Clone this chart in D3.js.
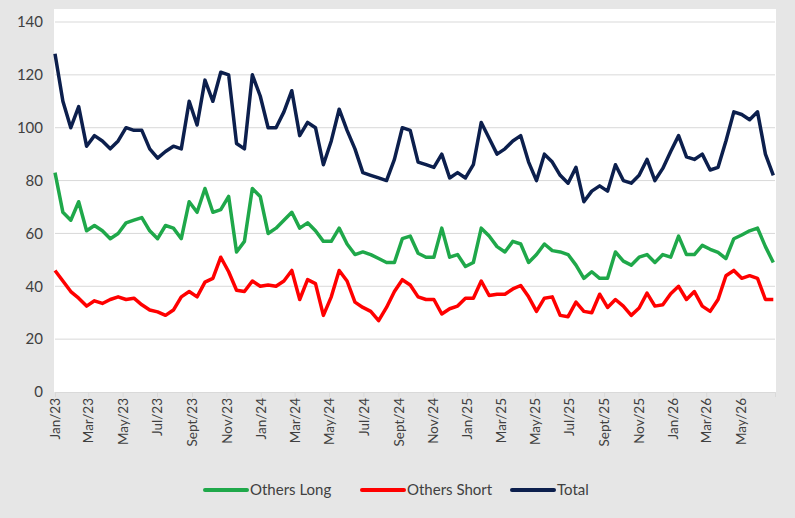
<!DOCTYPE html>
<html>
<head>
<meta charset="utf-8">
<script src="https://cdn.jsdelivr.net/npm/d3@7"></script>
<style>
  body { margin: 0; background: #e6e6e6; }
  text { font-family: Lato, "Open Sans", sans-serif; }
</style>
</head>
<body>
<div id="chart"></div>
<script>
// fortnightly readings from Jan 2023
const seriesNames = ["Others Long", "Others Short", "Total"];
const seriesColors = ["#1fa84a", "#ff0000", "#0c1f4d"];

const othersLong = [83, 68, 65, 72, 61, 63, 61, 58, 60, 64, 65, 66, 61, 58, 63, 62, 58, 72, 68, 77,
  68, 69, 74, 53, 57, 77, 74, 60, 62, 65, 68, 62, 64, 61, 57, 57, 62, 56, 52, 53,
  52, 50.5, 49, 49, 58, 59, 52.5, 51, 51, 62, 51, 52, 47.5, 49, 62, 59, 55, 53, 57, 56,
  49, 52, 56, 53.5, 53, 52, 48, 43, 45.5, 43, 43, 53, 49.5, 48, 51, 52, 49, 52, 51, 59,
  52, 52, 55.5, 54, 52.8, 50.5, 58, 59.4, 61, 62, 55, 49];

const othersShort = [46, 42, 38, 35.5, 32.5, 34.5, 33.5, 35, 36, 35, 35.5, 33, 31, 30.3, 29, 31, 36, 38, 36, 41.6,
  43, 51, 45.5, 38.5, 38, 42, 40, 40.5, 40, 42, 46, 35, 42.5, 41, 29, 36, 46, 42, 34, 32,
  30.5, 27, 32, 38, 42.5, 40.5, 36, 35, 35, 29.5, 31.5, 32.5, 35.5, 35.5, 42, 36.5, 37, 37, 39, 40.3,
  36, 30.5, 35.5, 36, 29, 28.5, 34, 30.5, 30, 37, 32, 35, 32.5, 29, 31.8, 37.4, 32.5, 33, 37.2, 40,
  35, 38, 32.5, 30.5, 35, 44, 46, 43, 44, 43, 35, 35];

const total = [128, 110, 100, 108, 93, 97, 95, 92, 95, 100, 99, 99, 92, 88.5, 91, 93, 92, 110, 101, 118,
  110, 121, 120, 94, 92, 120, 112, 100, 100, 106, 114, 97, 102, 100, 86, 95, 107, 99, 92, 83,
  82, 81, 80, 88, 100, 99, 87, 86, 85, 90, 81, 83, 81, 86, 102, 96, 90, 92, 95, 97,
  87, 80, 90, 87, 82, 79, 85, 72, 76, 78, 76, 86, 80, 79, 82, 88, 80, 84.6, 91, 97,
  89, 88, 90, 84, 85, 95, 106, 105, 103, 106, 90, 82];

const yTicks = [0, 20, 40, 60, 80, 100, 120, 140];
const monthNames = ["Jan", "Feb", "Mar", "Apr", "May", "Jun", "Jul", "Aug", "Sept", "Oct", "Nov", "Dec"];

const start = new Date(2023, 0, 1);
const dates = total.map((d, i) => d3.timeDay.offset(start, i * 14));
const allSeries = [othersLong, othersShort, total];

const W = 795, H = 518;
const PLOT = { LEFT: 55, RIGHT: 775, TOP: 22, BOTTOM: 392 };

const svg = d3.select("#chart").append("svg")
  .attr("width", W).attr("height", H);

svg.append("rect")
  .attr("x", 54).attr("y", 9)
  .attr("width", 722).attr("height", 383)
  .attr("fill", "#fff");

const x = d3.scaleTime()
  .domain([new Date(2023, 0, 1), new Date(2026, 6, 1)])
  .range([PLOT.LEFT, PLOT.RIGHT]);

const y = d3.scaleLinear()
  .domain([0, 140])
  .range([PLOT.BOTTOM, PLOT.TOP]);

// gridlines
svg.append("g").selectAll("line")
  .data(yTicks.filter(t => t > 0))
  .join("line")
    .attr("x1", PLOT.LEFT).attr("x2", PLOT.RIGHT)
    .attr("y1", d => y(d)).attr("y2", d => y(d))
    .attr("stroke", "#d9d9d9").attr("stroke-width", 1);

// y axis labels
const yAxis = svg.append("g")
  .attr("transform", `translate(${PLOT.LEFT - 4},0)`)
  .call(d3.axisLeft(y).tickValues(yTicks).tickSize(0).tickPadding(0));
yAxis.select(".domain").remove();
yAxis.selectAll("text").attr("font-size", 15).attr("fill", "#404040")
  .attr("dx", -8);

// x axis
const xTicks = d3.timeMonth.every(2).range(new Date(2023, 0, 1), new Date(2026, 6, 1));
const xAxis = svg.append("g")
  .attr("transform", `translate(0,${PLOT.BOTTOM})`)
  .call(d3.axisBottom(x).tickValues(xTicks).tickSize(5)
    .tickFormat(d => `${monthNames[d.getMonth()]}/${String(d.getFullYear()).slice(2)}`));
xAxis.select(".domain").attr("stroke", "#d9d9d9");
xAxis.selectAll(".tick line").attr("stroke", "#d9d9d9");
xAxis.selectAll("text")
  .attr("font-size", 13.5).attr("fill", "#404040")
  .attr("transform", "rotate(-90)")
  .attr("text-anchor", "end")
  .attr("x", -6).attr("y", 0).attr("dy", "0.35em");

// lines
const line = d3.line()
  .x((d, i) => x(dates[i]))
  .y(d => y(d));

svg.append("g").selectAll("path")
  .data(allSeries)
  .join("path")
    .attr("d", d => line(d))
    .attr("fill", "none")
    .attr("stroke", (d, i) => seriesColors[i])
    .attr("stroke-width", 3.5)
    .attr("stroke-linejoin", "round");

// legend
const legendX = [205, 362, 512];
const legend = svg.append("g").selectAll("g")
  .data(seriesNames)
  .join("g")
    .attr("transform", (d, i) => `translate(${legendX[i]},490)`);
legend.append("line")
  .attr("x1", 0).attr("x2", 42)
  .attr("stroke", (d, i) => seriesColors[i])
  .attr("stroke-width", 4).attr("stroke-linecap", "round");
legend.append("text")
  .attr("x", 45).attr("dy", "0.35em")
  .attr("font-size", 15).attr("fill", "#404040")
  .text(d => d);
</script>
</body>
</html>
